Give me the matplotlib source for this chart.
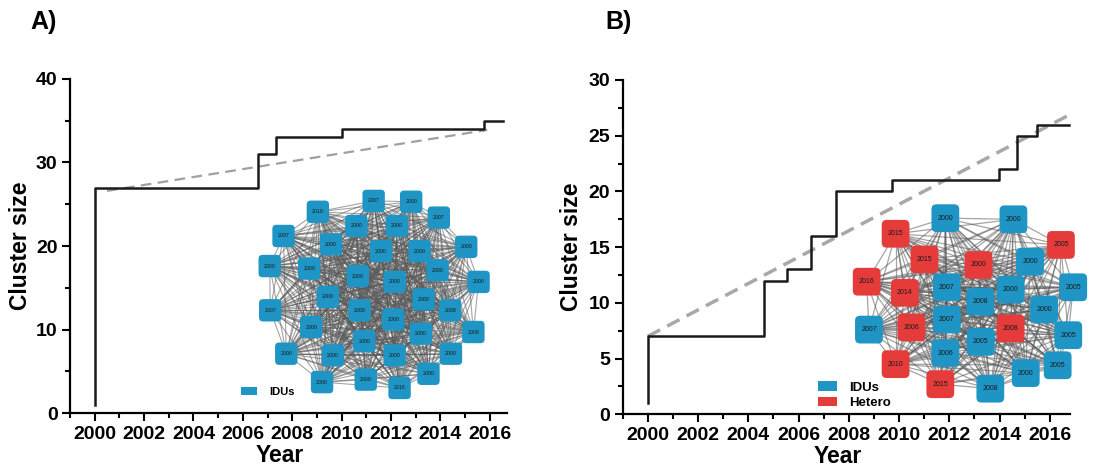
import itertools
import matplotlib
matplotlib.use('Agg')
import matplotlib.pyplot as plt
from matplotlib.patches import FancyBboxPatch, Patch
from matplotlib.ticker import MultipleLocator

plt.rcParams['font.family'] = ['Liberation Sans', 'DejaVu Sans']

IDU_BLUE = '#1f95c6'
HETERO_RED = '#e63b3b'
GROUP_COLORS = {'IDUs': IDU_BLUE, 'Hetero': HETERO_RED}

# --- panel A: cluster growth (IDUs only) ---
years_a = [2000, 2000, 2006.6, 2007.35, 2010.0, 2015.75, 2016.55]
sizes_a = [1, 27, 31, 33, 34, 35, 35]
trend_years_a = [2000.5, 2015.9]
trend_sizes_a = [26.6, 33.9]

node_x_a = [2011.30, 2012.82, 2009.04, 2013.94, 2010.60, 2012.24, 2007.65, 2009.57, 2015.05,
            2011.60, 2013.16, 2007.09, 2008.69, 2013.89, 2010.66, 2012.15, 2015.55, 2009.45,
            2013.32, 2007.11, 2010.73, 2014.40, 2012.09, 2008.77, 2015.34, 2013.21, 2010.92,
            2007.76, 2009.65, 2012.15, 2014.43, 2009.21, 2010.98, 2013.52, 2012.35]
node_y_a = [25.4, 25.3, 24.1, 23.4, 22.4, 22.4, 21.2, 20.2, 19.9, 19.4, 19.4, 17.6, 17.3, 17.1,
            16.4, 15.7, 15.7, 13.9, 13.6, 12.3, 12.3, 12.3, 11.2, 10.3, 9.7, 9.5, 8.6, 7.1, 6.9,
            6.9, 7.1, 3.7, 4.0, 4.7, 3.0]
node_labels_a = ['2007', '2000', '2010', '2007', '2000', '2000', '2007', '2000', '2000', '2000',
                 '2000', '2000', '2000', '2000', '2000', '2000', '2000', '2000', '2000', '2007',
                 '2000', '2008', '2000', '2000', '2008', '2000', '2000', '2000', '2000', '2000',
                 '2000', '2000', '2000', '2000', '2016']
node_groups_a = ['IDUs'] * len(node_labels_a)

# --- panel B: cluster growth (IDUs + Hetero) ---
years_b = [2000, 2000, 2004.63, 2005.53, 2006.48, 2007.5, 2009.72, 2013.96, 2014.68, 2015.5, 2016.75]
sizes_b = [1, 7, 12, 13, 16, 20, 21, 22, 25, 26, 26]
trend_years_b = [2000.0, 2016.8]
trend_sizes_b = [7.0, 26.9]

node_x_b = [2011.84, 2014.55, 2009.86, 2016.44, 2011.01, 2013.16, 2015.21, 2008.71, 2010.23,
            2011.90, 2014.44, 2016.93, 2013.23, 2015.77, 2008.80, 2010.49, 2011.90, 2014.44,
            2016.73, 2013.25, 2011.84, 2009.86, 2016.31, 2015.04, 2011.64, 2013.63]
node_y_b = [17.6, 17.5, 16.2, 15.2, 13.9, 13.4, 13.7, 11.9, 10.9, 11.4, 11.2, 11.4, 10.1, 9.4,
            7.6, 7.8, 8.5, 7.7, 7.1, 6.5, 5.5, 4.5, 4.4, 3.7, 2.7, 2.3]
node_labels_b = ['2000', '2000', '2015', '2005', '2015', '2000', '2000', '2016', '2014', '2007',
                 '2000', '2005', '2008', '2000', '2007', '2006', '2007', '2008', '2005', '2005',
                 '2006', '2010', '2005', '2000', '2015', '2008']
node_groups_b = ['IDUs', 'IDUs', 'Hetero', 'Hetero', 'Hetero', 'Hetero', 'IDUs', 'Hetero', 'Hetero',
                 'IDUs', 'IDUs', 'IDUs', 'IDUs', 'IDUs', 'IDUs', 'Hetero', 'IDUs', 'Hetero',
                 'IDUs', 'IDUs', 'IDUs', 'Hetero', 'IDUs', 'IDUs', 'Hetero', 'IDUs']

x_ticks = list(range(2000, 2017, 2))

# rounded square used as node marker
node_marker = FancyBboxPatch((-0.5, -0.5), 1, 1, boxstyle='round,pad=0,rounding_size=0.18').get_path()


def draw_network(ax, xs, ys, labels, groups, marker_size, label_size, edge_lw, edge_alpha):
    for i, j in itertools.combinations(range(len(xs)), 2):
        ax.plot([xs[i], xs[j]], [ys[i], ys[j]], color='#5a5a5a', lw=edge_lw,
                alpha=edge_alpha, zorder=1, clip_on=False)
    colors = [GROUP_COLORS[g] for g in groups]
    ax.scatter(xs, ys, s=marker_size, marker=node_marker, c=colors,
               edgecolors='none', zorder=4, clip_on=False)
    for x, y, lab in zip(xs, ys, labels):
        ax.text(x, y, lab, fontsize=label_size, ha='center', va='center',
                color='#1a1a1a', zorder=5)


def style_axes(ax, ymax, ymajor, yminor, xmax):
    ax.set_xlim(1999.0, xmax)
    ax.set_ylim(0, ymax)
    for side in ['top', 'right']:
        ax.spines[side].set_visible(False)
    for side in ['left', 'bottom']:
        ax.spines[side].set_linewidth(1.6)
    ax.set_xticks(x_ticks)
    ax.xaxis.set_minor_locator(MultipleLocator(1))
    ax.yaxis.set_major_locator(MultipleLocator(ymajor))
    ax.yaxis.set_minor_locator(MultipleLocator(yminor))
    ax.tick_params(which='major', length=5.5, width=1.5, labelsize=14, pad=3.5)
    ax.tick_params(which='minor', length=3.5, width=1.5)
    for lab in ax.get_xticklabels() + ax.get_yticklabels():
        lab.set_fontweight('bold')
    ax.set_xlabel('Year', fontsize=16.5, fontweight='bold')
    ax.set_ylabel('Cluster size', fontsize=16.5, fontweight='bold')
    ax.xaxis.set_label_coords(0.48, -0.092)
    ax.yaxis.set_label_coords(-0.088, 0.5)


fig = plt.figure(figsize=(10.99, 4.75), dpi=100)
ax_a = fig.add_axes([0.0637, 0.1305, 0.3976, 0.7032])
ax_b = fig.add_axes([0.5666, 0.1278, 0.4070, 0.7038])

# panel A
style_axes(ax_a, 40, 10, 5, 2016.7)
draw_network(ax_a, node_x_a, node_y_a, node_labels_a, node_groups_a, 260, 3.8, 0.8, 0.55)
ax_a.plot(years_a, sizes_a, drawstyle='steps-post', color='#1a1a1a', lw=1.8, zorder=3)
ax_a.plot(trend_years_a, trend_sizes_a, color='#a0a0a0', lw=1.6, dashes=(4.8, 2.9), zorder=2)
ax_a.legend(handles=[Patch(facecolor=IDU_BLUE, label='IDUs')], loc='upper left',
            bbox_to_anchor=(0.378, 0.095), frameon=False, borderpad=0, handlelength=1.5,
            handletextpad=1.1, prop={'size': 8, 'weight': 'bold'})

# panel B
style_axes(ax_b, 30, 5, 2.5, 2016.8)
draw_network(ax_b, node_x_b, node_y_b, node_labels_b, node_groups_b, 400, 5.0, 0.9, 0.55)
ax_b.plot(years_b, sizes_b, drawstyle='steps-post', color='#1a1a1a', lw=1.8, zorder=3, clip_on=False)
ax_b.plot(trend_years_b, trend_sizes_b, color='#a8a8a8', lw=2.5, dashes=(4.0, 2.3), zorder=2)
ax_b.legend(handles=[Patch(facecolor=IDU_BLUE, label='IDUs'),
                     Patch(facecolor=HETERO_RED, label='Hetero')],
            loc='upper left', bbox_to_anchor=(0.423, 0.118), frameon=False, borderpad=0,
            handlelength=1.4, handletextpad=0.9, labelspacing=0.25,
            prop={'size': 9.5, 'weight': 'bold'})

fig.text(30 / 1099, 1 - 22 / 475, 'A)', fontsize=18, fontweight='bold', va='center')
fig.text(605 / 1099, 1 - 22 / 475, 'B)', fontsize=18, fontweight='bold', va='center')

fig.savefig('out.png', dpi=100)
